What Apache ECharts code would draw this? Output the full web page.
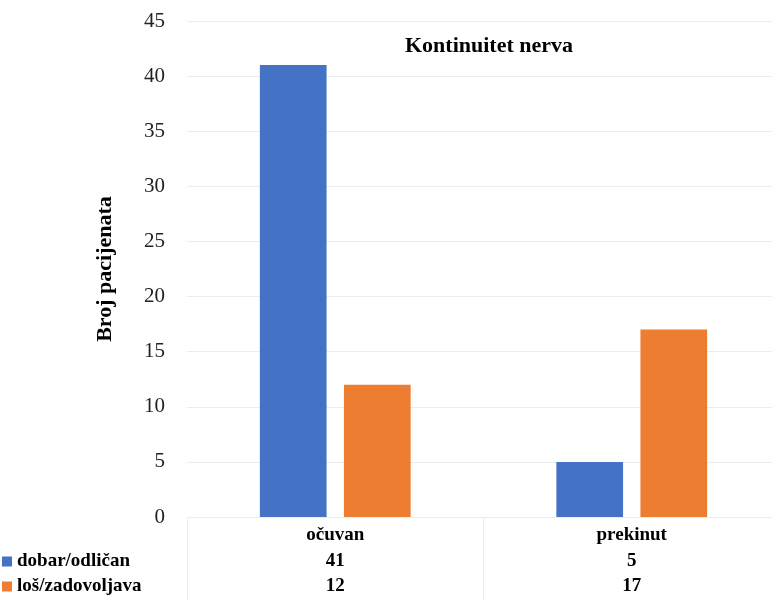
<!DOCTYPE html>
<html>
<head>
<meta charset="utf-8">
<script src="https://cdn.jsdelivr.net/npm/echarts@6/dist/echarts.min.js"></script>
<style>html,body{margin:0;padding:0;background:#fff;overflow:hidden}#c{width:780px;height:601px}</style>
</head>
<body>
<div id="c"></div>
<script>
const categories = ['očuvan', 'prekinut'];
const seriesNames = ['dobar/odličan', 'loš/zadovoljava'];
const goodValues = [41, 5];
const badValues = [12, 17];
const yTicks = {min: 0, max: 45, interval: 5};
const titleText = 'Kontinuitet nerva';
const yName = 'Broj pacijenata';

const serif = '"Liberation Serif", "Times New Roman", serif';
const chart = echarts.init(document.getElementById('c'), null, {renderer: 'canvas'});
const hidden = {show: false};
chart.setOption({
  animation: false,
  backgroundColor: '#fff',
  title: {
    text: titleText, left: 400, top: 30,
    textStyle: {fontFamily: serif, fontWeight: 'bold', fontSize: 22, color: '#000'}
  },
  legend: {
    orient: 'vertical', left: 2, top: 552, padding: 0, itemWidth: 10, itemHeight: 10, itemGap: 6,
    icon: 'rect', data: seriesNames,
    textStyle: {fontFamily: serif, fontWeight: 'bold', fontSize: 19, color: '#000'}
  },
  grid: {left: 187, right: 0, top: 21, bottom: 84},
  xAxis: [
    {
      type: 'category', data: categories, position: 'bottom',
      axisLine: {show: true, lineStyle: {color: '#ececec', width: 1}},
      axisTick: {show: true, length: 84, interval: 0, lineStyle: {color: '#ececec'}},
      axisLabel: {margin: 9, fontFamily: serif, fontWeight: 'bold', fontSize: 19, color: '#000'}
    },
    {
      type: 'category', data: goodValues.map(String), position: 'bottom', offset: 26,
      axisLine: hidden, axisTick: hidden,
      axisLabel: {margin: 9, fontFamily: serif, fontWeight: 'bold', fontSize: 19, color: '#000'}
    },
    {
      type: 'category', data: badValues.map(String), position: 'bottom', offset: 51,
      axisLine: hidden, axisTick: hidden,
      axisLabel: {margin: 9, fontFamily: serif, fontWeight: 'bold', fontSize: 19, color: '#000'}
    }
  ],
  yAxis: {
    type: 'value', min: yTicks.min, max: yTicks.max, interval: yTicks.interval,
    name: yName, nameLocation: 'middle', nameGap: 71, nameRotate: 90,
    nameTextStyle: {fontFamily: serif, fontWeight: 'bold', fontSize: 22, color: '#000'},
    axisLine: hidden, axisTick: hidden,
    axisLabel: {margin: 22, fontFamily: serif, fontSize: 21, color: '#222'},
    splitLine: {lineStyle: {color: '#ececec', width: 1}}
  },
  series: [
    {name: seriesNames[0], type: 'bar', data: goodValues, barWidth: '22.5%', barGap: '26%',
     itemStyle: {color: '#4472C4'}},
    {name: seriesNames[1], type: 'bar', data: badValues, barWidth: '22.5%', barGap: '26%',
     itemStyle: {color: '#ED7D31'}}
  ]
});
</script>
</body>
</html>
